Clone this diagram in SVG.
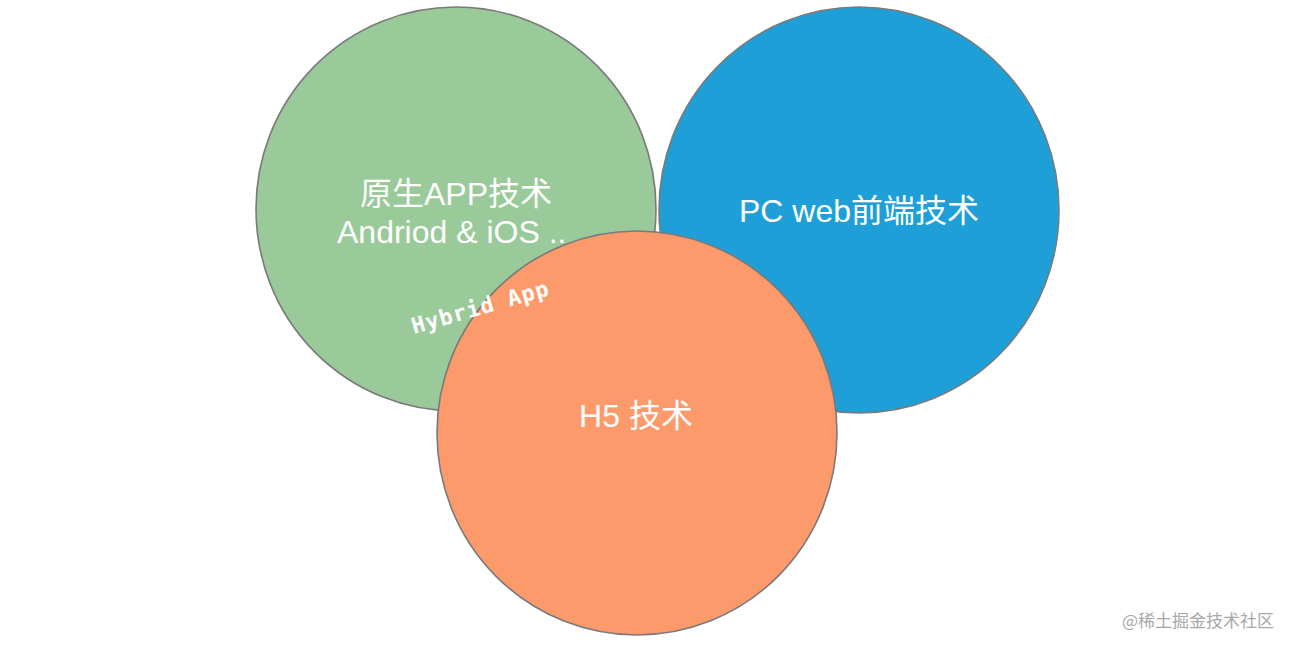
<svg xmlns="http://www.w3.org/2000/svg" width="1293" height="650" viewBox="0 0 1293 650">
<style>
.c{stroke:#7a7a7a;stroke-width:1.6}
.t{font-family:"Liberation Sans","Noto Sans CJK SC",sans-serif;fill:#ffffff;text-anchor:middle;font-size:32px}
.m{font-family:"DejaVu Sans Mono","Liberation Mono",monospace;font-weight:bold;fill:#ffffff;font-size:22px;letter-spacing:1px}
.w{font-family:"Noto Sans CJK SC",sans-serif;fill:#a8a8a8;font-size:17px;text-anchor:end}
</style>
<rect width="1293" height="650" fill="#ffffff"/>
<g id="native">
<ellipse class="c" cx="456" cy="209" rx="200" ry="202" fill="#9aca9a"/>
<text class="t" x="456" y="205">原生APP技术</text>
<text class="t" x="337" y="243" style="text-anchor:start">Andriod &amp; iOS ..</text>
</g>
<g id="pcweb">
<ellipse class="c" cx="859" cy="210" rx="200" ry="203" fill="#1e9fd8"/>
<text class="t" x="859" y="222">PC web前端技术</text>
</g>
<g id="h5">
<ellipse class="c" cx="637" cy="433" rx="200" ry="202" fill="#fd9a6c"/>
<text class="t" x="636" y="427">H5 技术</text>
</g>
<g id="hybrid">
<text class="m" transform="translate(414,334) rotate(-16)">Hybrid App</text>
</g>
<g id="connectors"></g>
<text class="w" x="1274" y="627">@稀土掘金技术社区</text>
</svg>
